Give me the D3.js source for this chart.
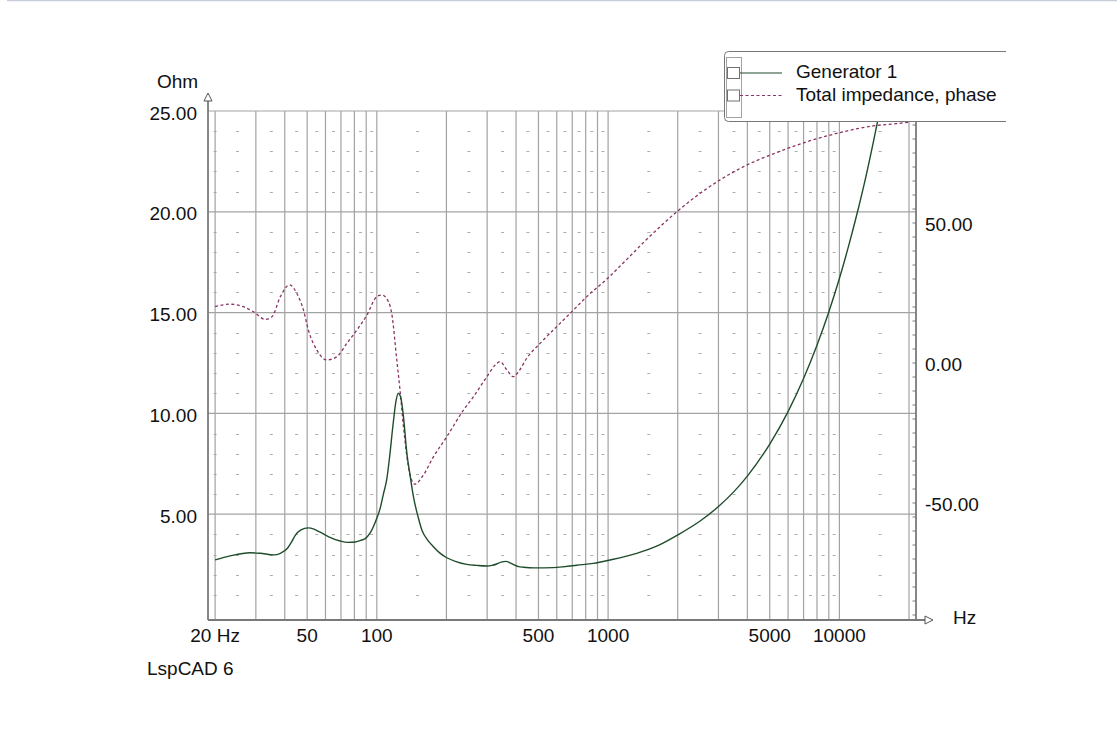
<!DOCTYPE html>
<html>
<head>
<meta charset="utf-8">
<script src="https://cdn.jsdelivr.net/npm/d3@7"></script>
<style>
  html, body { margin: 0; padding: 0; background: #fff; }
  svg { display: block; }
  text { font-family: "Liberation Sans", Arial, sans-serif; font-size: 19px; fill: #111; }
</style>
</head>
<body>
<svg id="chart" width="1117" height="741"></svg>
<script>
// ---------- data ----------
const impFreq = [20, 23.2, 28.3, 31.3, 35.9, 38.3, 41.1, 42.9, 44.4, 47, 50.5, 53.5, 56.6, 62, 69.4, 75, 80.6, 85, 89.1, 93.6, 100, 103.4, 106.8, 110.5, 113.5, 117.7, 121, 124, 126.5, 128.3, 130.4, 134.9, 139.4, 144, 151.4, 156.6, 165, 175.7, 187, 200.8, 220, 245, 270, 299, 315, 330, 345, 362, 375, 390, 410, 431, 480, 580, 650, 733, 864, 1020, 1330, 1650, 2000, 2500, 3000, 3500, 4000, 5000, 6000, 7000, 8000, 9000, 10000, 11000, 12000, 13000, 14000, 15000, 16000];
const impOhm  = [2.73, 2.93, 3.09, 3.06, 2.98, 3.06, 3.31, 3.64, 3.95, 4.22, 4.32, 4.26, 4.12, 3.88, 3.67, 3.6, 3.62, 3.7, 3.79, 4.07, 4.8, 5.29, 6.0, 6.75, 7.8, 9.5, 10.6, 11.0, 10.85, 10.5, 9.84, 8.02, 6.9, 5.87, 4.8, 4.22, 3.75, 3.39, 3.08, 2.84, 2.65, 2.51, 2.46, 2.43, 2.46, 2.53, 2.62, 2.66, 2.6, 2.5, 2.4, 2.37, 2.34, 2.35, 2.4, 2.47, 2.56, 2.73, 3.06, 3.45, 3.97, 4.66, 5.38, 6.12, 6.89, 8.48, 10.09, 11.73, 13.38, 15.03, 16.69, 18.37, 20.04, 21.71, 23.42, 25.1, 26.8];

const phaseFreq = [20, 23.2, 26.5, 29.3, 32.9, 35.2, 38.3, 41.9, 45.1, 48.2, 50.6, 55.1, 60.8, 67.2, 74.2, 82, 90.6, 100, 105.2, 112.3, 116, 122, 126, 130.4, 137, 141, 146, 159, 175.7, 200.8, 237, 262, 299, 325, 341, 365, 390, 410, 445, 508, 590, 708, 809, 988, 1205, 1470, 1982, 2500, 3050, 3978, 5186, 7228, 10074, 14030, 17700, 20000];
const phaseDeg  = [20.1, 21.0, 20.1, 18.3, 15.6, 16.5, 23.7, 27.9, 24.9, 18.9, 11.8, 4.6, 1.1, 2.25, 7.0, 11.8, 17.1, 23.7, 24.3, 21.9, 17.75, 1.1, -9.6, -22.7, -37, -41.5, -43.3, -40, -33.5, -26.3, -16.8, -12, -4.9, -0.7, 0.5, -2.5, -4.9, -3.1, 1.7, 7.0, 12.4, 18.9, 23.7, 30, 37, 44.2, 54, 60.6, 65.4, 70.7, 74.7, 79, 82.3, 84.7, 85.5, 86];

const gridFreqs = [20, 30, 40, 50, 60, 70, 80, 90, 100, 200, 300, 400, 500, 600, 700, 800, 900, 1000, 2000, 3000, 4000, 5000, 6000, 7000, 8000, 9000, 10000, 20000];
const minorFreqs = [20, 25, 35, 45, 55, 65, 75, 85, 95, 150, 250, 350, 450, 550, 650, 750, 850, 950, 1500, 2500, 3500, 4500, 5500, 6500, 7500, 8500, 9500, 15000];
const freqTickValues = [20, 50, 100, 500, 1000, 5000, 10000];
const freqTickLabels = ["20 Hz", "50", "100", "500", "1000", "5000", "10000"];
const ohmMajor = [5, 10, 15, 20, 25];
const ohmMinor = [1, 2, 3, 4, 6, 7, 8, 9, 11, 12, 13, 14, 16, 17, 18, 19, 21, 22, 23, 24];
const phaseLabels = [50, 0, -50];
const phaseTicks = [-90, -85, -80, -75, -70, -65, -60, -55, -50, -45, -40, -35, -30, -25, -20, -15, -10, -5, 0, 5, 10, 15, 20, 25, 30, 35, 40, 45, 50, 55, 60, 65, 70, 75, 80, 85, 90];
const legendNames = ["Generator 1", "Total impedance, phase"];

// ---------- layout ----------
const svg = d3.select("#chart");
const L = 208, R = 916, T = 111, B = 615, AX = 620;
const x = d3.scaleLog().domain([18.63, 21440]).range([L, R]);
const yO = d3.scaleLinear().domain([0, 25]).range([B, T]);
const yP = d3.scaleLinear().domain([-90, 90]).range([B, T]);
const green = "#1f4d2c", purple = "#8a3466", grid = "#a3a3a3", axisC = "#7a7a7a";

// top window line
svg.append("line").attr("x1", 7).attr("x2", 1117).attr("y1", 0.5).attr("y2", 0.5)
  .attr("stroke", "#c6cdd9").attr("stroke-width", 1.5);

// minor dash marks
const dashG = svg.append("g");
ohmMinor.forEach(o => {
  minorFreqs.forEach(f => {
    dashG.append("line").attr("x1", x(f) - 1.5).attr("x2", x(f) + 1.5)
      .attr("y1", Math.round(yO(o)) + 0.5).attr("y2", Math.round(yO(o)) + 0.5)
      .attr("stroke", "#adadad").attr("stroke-width", 1);
  });
});

// vertical gridlines
svg.append("g").selectAll("line").data(gridFreqs).join("line")
  .attr("x1", d => x(d)).attr("x2", d => x(d)).attr("y1", T).attr("y2", AX)
  .attr("stroke", grid).attr("stroke-width", 1.2);

// horizontal gridlines
svg.append("g").selectAll("line").data(ohmMajor).join("line")
  .attr("x1", L).attr("x2", R).attr("y1", d => yO(d)).attr("y2", d => yO(d))
  .attr("stroke", grid).attr("stroke-width", 1.2);

// axes
svg.append("line").attr("x1", L).attr("x2", L).attr("y1", 101).attr("y2", AX)
  .attr("stroke", axisC).attr("stroke-width", 1.8);
svg.append("line").attr("x1", L).attr("x2", 925).attr("y1", AX).attr("y2", AX)
  .attr("stroke", axisC).attr("stroke-width", 1.8);
svg.append("line").attr("x1", R).attr("x2", R).attr("y1", T).attr("y2", AX)
  .attr("stroke", axisC).attr("stroke-width", 1.8);
// right axis ticks
svg.append("g").selectAll("line").data(phaseTicks).join("line")
  .attr("x1", R - 3.5).attr("x2", R).attr("y1", d => yP(d)).attr("y2", d => yP(d))
  .attr("stroke", axisC).attr("stroke-width", 1);

// arrows
svg.append("path").attr("d", "M204,101 L212,101 L208,93 Z")
  .attr("fill", "#fff").attr("stroke", "#555").attr("stroke-width", 1);
svg.append("path").attr("d", "M925,616 L925,624 L933,620 Z")
  .attr("fill", "#fff").attr("stroke", "#555").attr("stroke-width", 1);

// clip
svg.append("clipPath").attr("id", "plotclip").append("rect")
  .attr("x", L).attr("y", T).attr("width", R - L).attr("height", AX - T);

const plot = svg.append("g").attr("clip-path", "url(#plotclip)");

const phaseLine = d3.line().x(d => x(d[0])).y(d => yP(d[1])).curve(d3.curveMonotoneX);
plot.append("path").datum(phaseFreq.map((f, i) => [f, phaseDeg[i]]))
  .attr("d", phaseLine).attr("fill", "none").attr("stroke", purple)
  .attr("stroke-width", 1.3).attr("stroke-dasharray", "3,2.5");

const impLine = d3.line().x(d => x(d[0])).y(d => yO(d[1])).curve(d3.curveMonotoneX);
plot.append("path").datum(impFreq.map((f, i) => [f, impOhm[i]]))
  .attr("d", impLine).attr("fill", "none").attr("stroke", green).attr("stroke-width", 1.4);

// labels
svg.append("g").selectAll("text").data(ohmMajor).join("text")
  .attr("x", 197).attr("y", d => yO(d) + 2).attr("text-anchor", "end")
  .attr("dominant-baseline", "central").text(d => d.toFixed(2));
svg.append("g").selectAll("text").data(phaseLabels).join("text")
  .attr("x", 925).attr("y", d => yP(d) + 1).attr("text-anchor", "start")
  .attr("dominant-baseline", "central").text(d => d.toFixed(2));
svg.append("g").selectAll("text").data(freqTickValues).join("text")
  .attr("x", d => x(d)).attr("y", 642).attr("text-anchor", "middle")
  .text((d, i) => freqTickLabels[i]);
svg.append("text").attr("x", 157).attr("y", 88).text("Ohm");
svg.append("text").attr("x", 953).attr("y", 624).text("Hz");
svg.append("text").attr("x", 147).attr("y", 675).text("LspCAD 6");

// legend
const lg = svg.append("g");
lg.append("path").attr("d", "M1006,51.5 H728.5 Q724.5,51.5 724.5,55.5 V117.5 Q724.5,121.5 728.5,121.5 H1006 Z")
  .attr("fill", "#fff").attr("stroke", "none");
lg.append("path").attr("d", "M1006,51.5 H728.5 Q724.5,51.5 724.5,55.5 V117.5 Q724.5,121.5 728.5,121.5 H1006")
  .attr("fill", "none").attr("stroke", "#777").attr("stroke-width", 1);
lg.append("rect").attr("x", 726.5).attr("y", 57.5).attr("width", 15).attr("height", 60)
  .attr("fill", "none").attr("stroke", "#444").attr("stroke-width", 1).attr("stroke-dasharray", "1,1");
const legY = [73, 95.5];
legendNames.forEach((name, i) => {
  lg.append("rect").attr("x", 727.5).attr("y", legY[i] - 5.5).attr("width", 12).attr("height", 11)
    .attr("fill", "#fff").attr("stroke", "#707070").attr("stroke-width", 1);
  lg.append("line").attr("x1", 740).attr("x2", 782).attr("y1", legY[i]).attr("y2", legY[i])
    .attr("stroke", i === 0 ? green : purple).attr("stroke-width", 1.2)
    .attr("stroke-dasharray", i === 0 ? null : "3,2.5");
  lg.append("text").attr("x", 796).attr("y", legY[i] + 5).text(name);
});
</script>
</body>
</html>
